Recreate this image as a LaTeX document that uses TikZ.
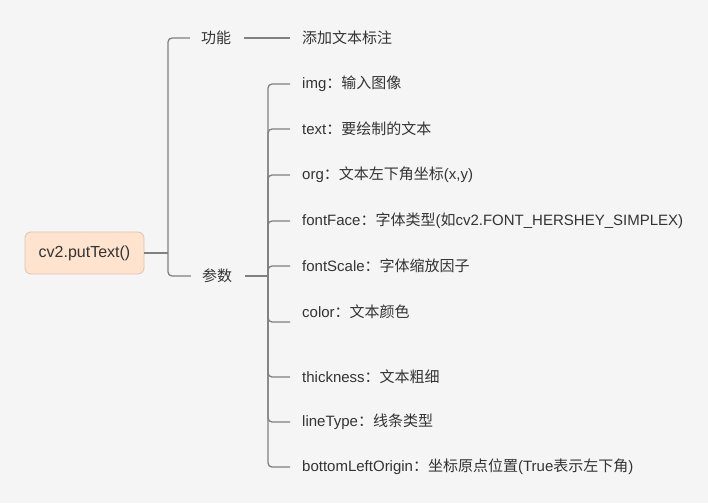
\documentclass[tikz,border=0pt]{standalone}
\usepackage{fontspec}
\setmainfont{Liberation Sans}
\newfontfamily\cjk{Noto Sans CJK SC}
\newcommand\zh[1]{{\cjk #1}}
\definecolor{bgc}{RGB}{245,245,245}
\definecolor{linec}{RGB}{128,128,128}
\definecolor{txtc}{RGB}{51,51,51}
\definecolor{rootfill}{RGB}{254,228,206}
\definecolor{rootdraw}{RGB}{222,196,174}
\begin{document}
\begin{tikzpicture}[x=1pt,y=-1pt,
  conn/.style={draw=linec, line width=1.3pt, rounded corners=4pt},
  lbl/.style={anchor=west, inner sep=0pt, text=txtc, font=\fontsize{15}{18}\selectfont},
  rootbox/.style={draw=rootdraw, fill=rootfill, line width=0.8pt, rounded corners=6pt,
    minimum width=119pt, minimum height=42pt, text=txtc, font=\fontsize{16}{19}\selectfont}]
\useasboundingbox[fill=bgc] (0,0) rectangle (708,503);
\node[rootbox] (root) at (84.5,253) {cv2.putText()};
\node[lbl, anchor=center] (gn) at (216,38) {\zh{功能}};
\node[lbl, anchor=center] (cs) at (217,276) {\zh{参数}};
\node[lbl] (gn1) at (302,38) {\zh{添加文本标注}};
\node[lbl] (c1) at (302,84) {img\zh{：输入图像}};
\node[lbl] (c2) at (302,129) {text\zh{：要绘制的文本}};
\node[lbl] (c3) at (302,175) {org\zh{：文本左下角坐标}(x,y)};
\node[lbl] (c4) at (302,221) {fontFace\zh{：字体类型}(\zh{如}cv2.FONT\_HERSHEY\_SIMPLEX)};
\node[lbl] (c5) at (302,266) {fontScale\zh{：字体缩放因子}};
\node[lbl] (c6) at (302,312) {color\zh{：文本颜色}};
\node[lbl] (c7) at (302,377) {thickness\zh{：文本粗细}};
\node[lbl] (c8) at (302,422) {lineType\zh{：线条类型}};
\node[lbl] (c9) at (302,467) {bottomLeftOrigin\zh{：坐标原点位置}(True\zh{表示左下角})};
\coordinate (j1) at (168,253);
\coordinate (j2) at (268,276);
\draw[conn] (root.east) -- (j1);
\draw[conn] (j1) |- ([xshift=-11pt]gn.west);
\draw[conn] (j1) |- ([xshift=-11pt]cs.west);
\draw[conn] ([xshift=13pt]gn.east) -- ([xshift=-12pt]gn1.west);
\draw[conn] ([xshift=13pt]cs.east) -- (j2);
\foreach \c in {c1,c2,c3,c4,c5,c7,c8,c9}{
  \draw[conn] (j2) |- ([xshift=-12pt]\c.west);
}
\draw[conn] (j2) |- ([xshift=-12pt,yshift=-10pt]c6.west);
\end{tikzpicture}
\end{document}
